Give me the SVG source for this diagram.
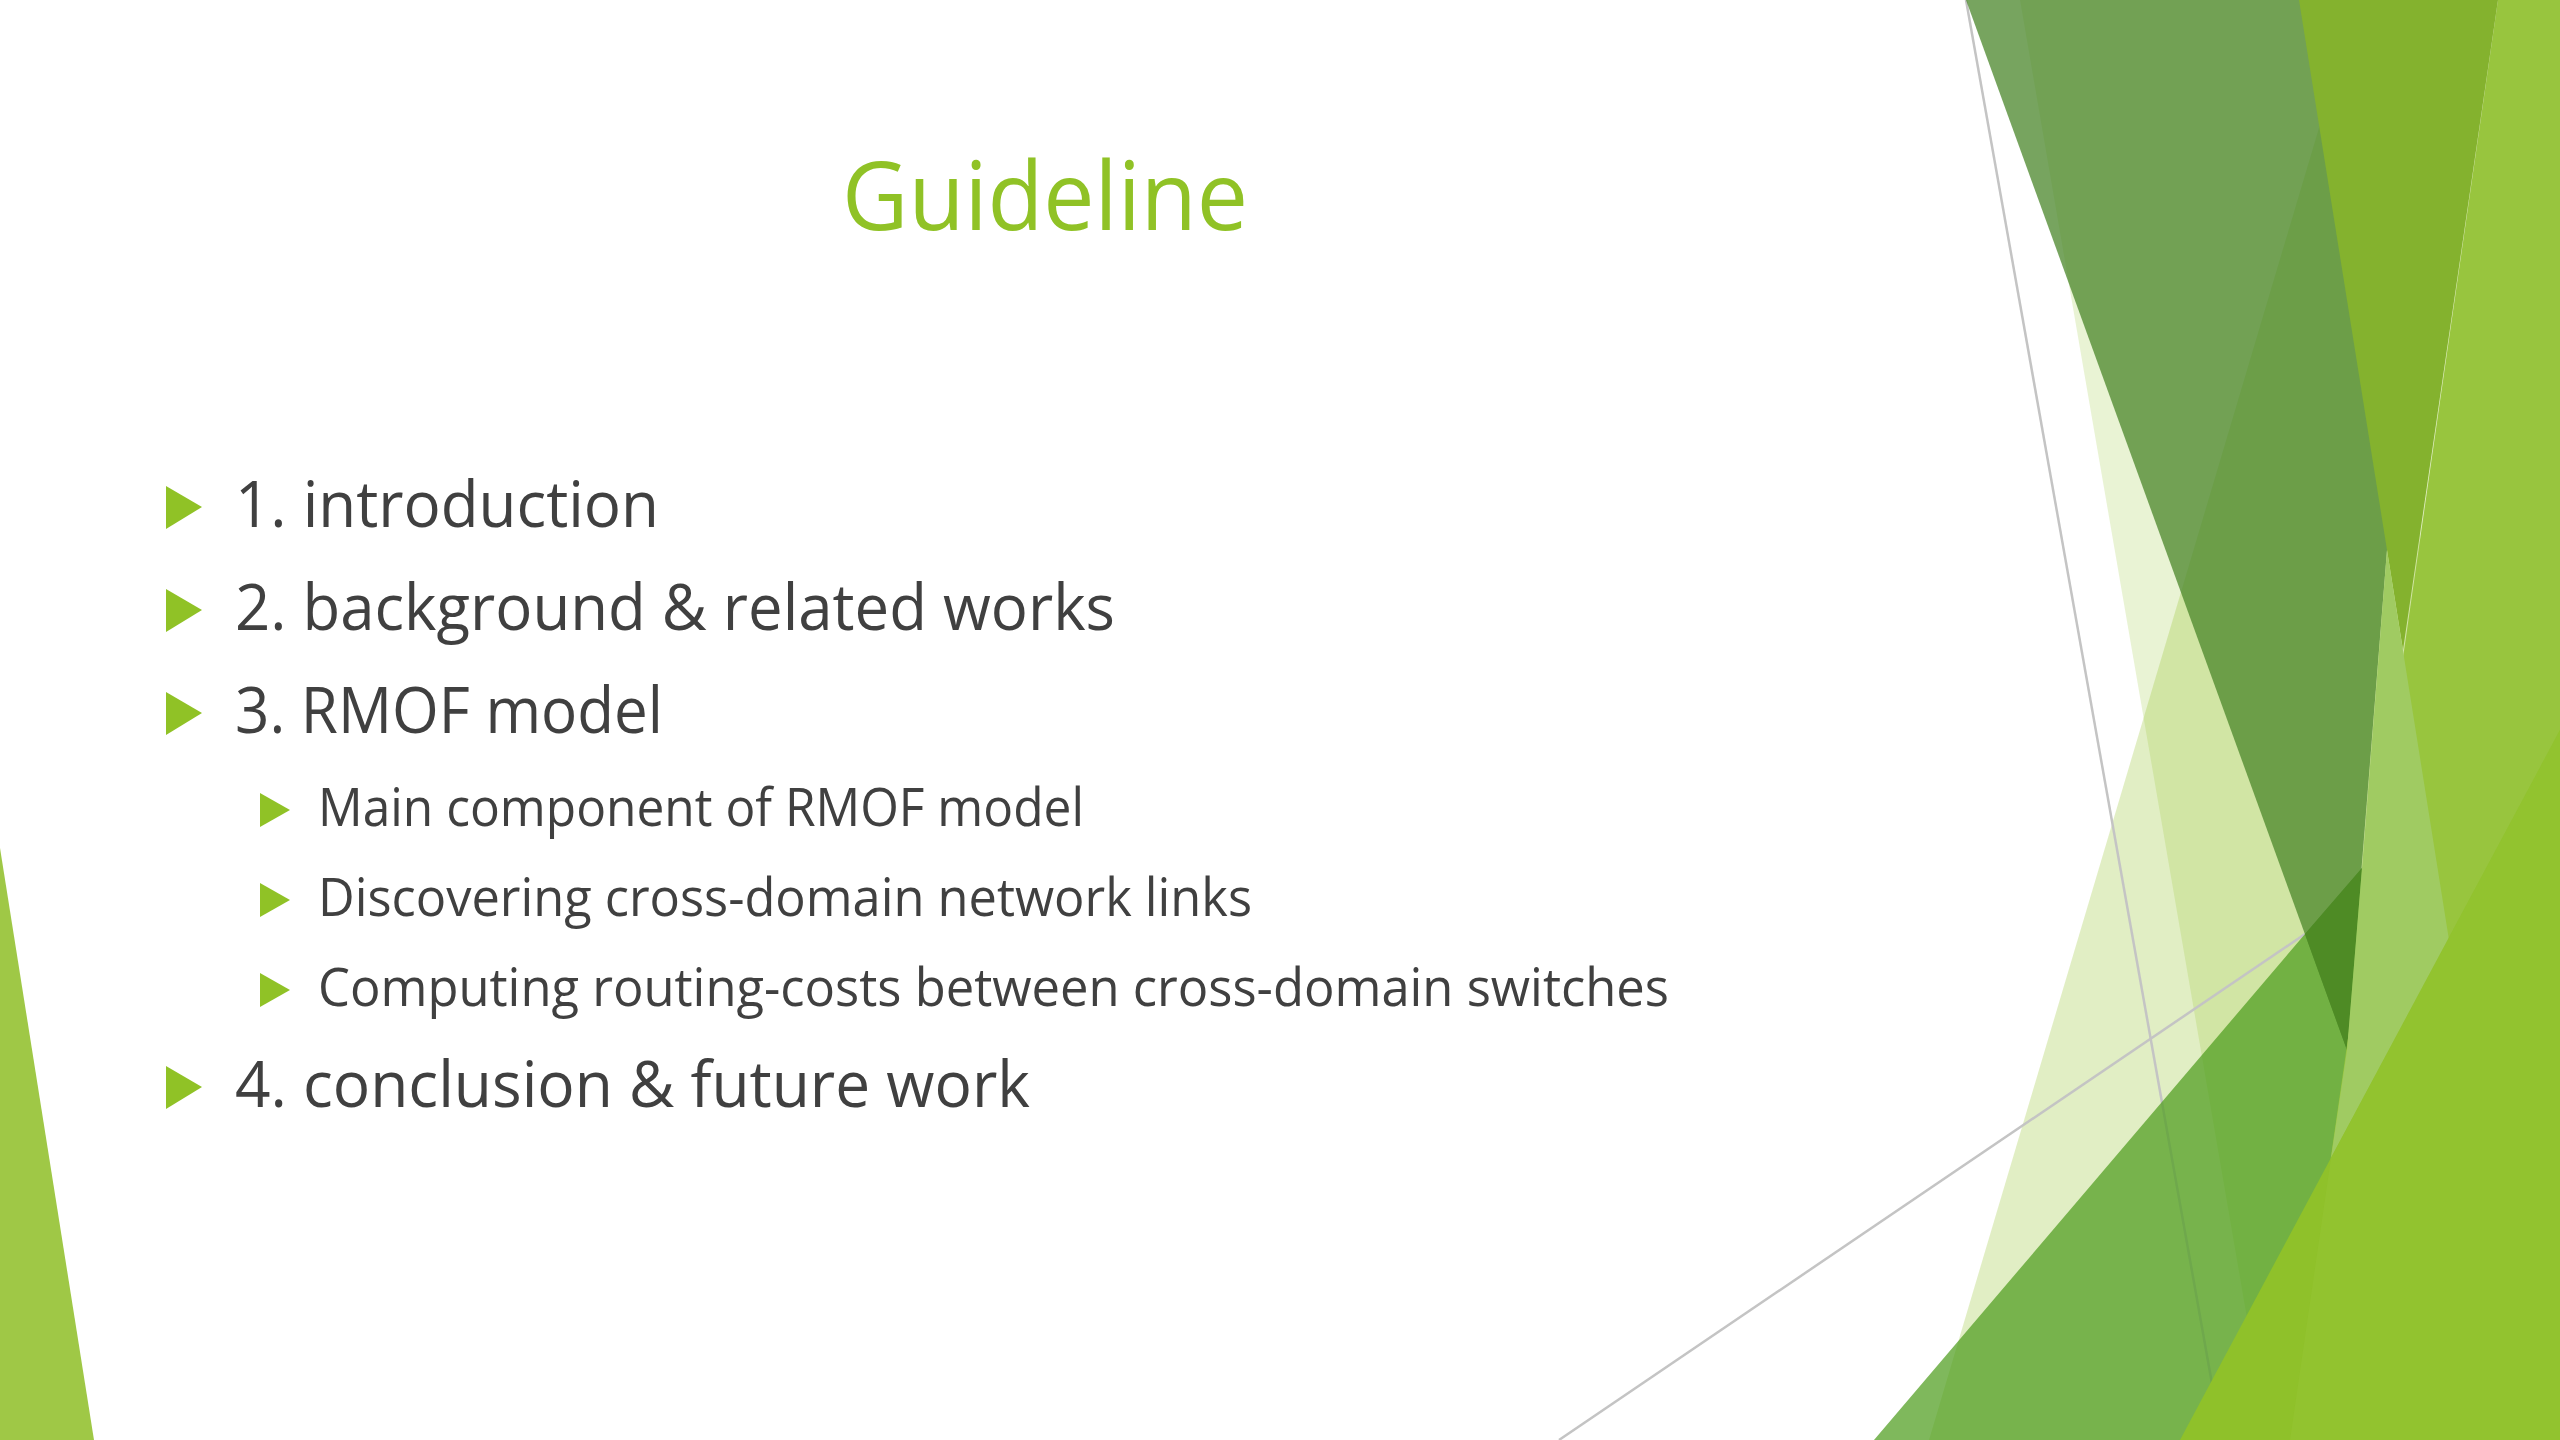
<svg xmlns="http://www.w3.org/2000/svg" width="2560" height="1440" viewBox="0 0 2560 1440">
<style>
.title{font-family:"Open Sans","Liberation Sans",sans-serif;font-size:96px;fill:#90C226;}
.l1{font-family:"Open Sans","Liberation Sans",sans-serif;font-size:64px;fill:#404040;}
.l2{font-family:"Open Sans","Liberation Sans",sans-serif;font-size:53px;fill:#404040;}
.bul{fill:#90C226;}
.gline{stroke:#C4C4C4;stroke-width:2.5;fill:none;}
</style>
<defs>
<polygon id="b1" points="0,-21 36,0 0,22"/>
<polygon id="b2" points="0,-17 30,0 0,17"/>
</defs>
<rect width="2560" height="1440" fill="#FFFFFF"/>
<g id="decor">
  <polygon points="0,848 94,1440 0,1440" fill="#9FC846"/>
  <polygon id="s3" points="2020,0 2420,0 2420,1440 2268,1440" fill="#90C226" fill-opacity="0.2"/>
  <polygon id="s2" points="2357,0 2560,0 2560,1440 1929,1440" fill="#90C226" fill-opacity="0.27"/>
  <line class="gline" x1="1966" y1="0" x2="2222" y2="1440"/>
  <line class="gline" x1="1559" y1="1440" x2="2305" y2="934" stroke="#D6D6D6"/>
  <polygon id="g1" points="1874,1440 2305,934 2362,868 2560,636 2560,1440" fill="#4E9C1D" fill-opacity="0.72"/>
  <polygon id="a" points="1966,0 2431,0 2347,1050" fill="#4A852A" fill-opacity="0.75"/>
  <polygon id="dark" points="2305,934 2362,868 2347,1050" fill="#4E8B25"/>
  <polygon id="r" points="2498,0 2560,0 2560,1440 2290,1440" fill="#98C53E"/>
  <polygon id="m" points="2299,0 2498,0 2403,650 2387,550" fill="#84B22E"/>
  <polygon id="t2" points="2387,550 2449,940 2331,1158 2347,1050 2362,868" fill="#A0CB62"/>
  <polygon id="g2" points="2180,1440 2560,730 2560,1440" fill="#8FC12A"/>
  <polygon points="2290,1440 2331,1158 2560,730 2560,1440" fill="#96C634" fill-opacity="0.5"/>
</g>
<g id="title">
  <text class="title" x="1045" y="230" text-anchor="middle" textLength="406" lengthAdjust="spacingAndGlyphs">Guideline</text>
</g>
<g id="item1">
  <use href="#b1" x="166" y="507" class="bul"/>
  <text class="l1" x="235" y="527" textLength="424" lengthAdjust="spacingAndGlyphs">1. introduction</text>
</g>
<g id="item2">
  <use href="#b1" x="166" y="610" class="bul"/>
  <text class="l1" x="235" y="630" textLength="880" lengthAdjust="spacingAndGlyphs">2. background &amp; related works</text>
</g>
<g id="item3">
  <use href="#b1" x="166" y="713" class="bul"/>
  <text class="l1" x="235" y="733" textLength="428" lengthAdjust="spacingAndGlyphs">3. RMOF model</text>
</g>
<g id="sub1">
  <use href="#b2" x="260" y="810" class="bul"/>
  <text class="l2" x="318" y="826" textLength="766" lengthAdjust="spacingAndGlyphs">Main component of RMOF model</text>
</g>
<g id="sub2">
  <use href="#b2" x="260" y="900" class="bul"/>
  <text class="l2" x="318" y="916" textLength="934" lengthAdjust="spacingAndGlyphs">Discovering cross-domain network links</text>
</g>
<g id="sub3">
  <use href="#b2" x="260" y="990" class="bul"/>
  <text class="l2" x="318" y="1006" textLength="1351" lengthAdjust="spacingAndGlyphs">Computing routing-costs between cross-domain switches</text>
</g>
<g id="item4">
  <use href="#b1" x="166" y="1087" class="bul"/>
  <text class="l1" x="235" y="1107" textLength="795" lengthAdjust="spacingAndGlyphs">4. conclusion &amp; future work</text>
</g>
</svg>
